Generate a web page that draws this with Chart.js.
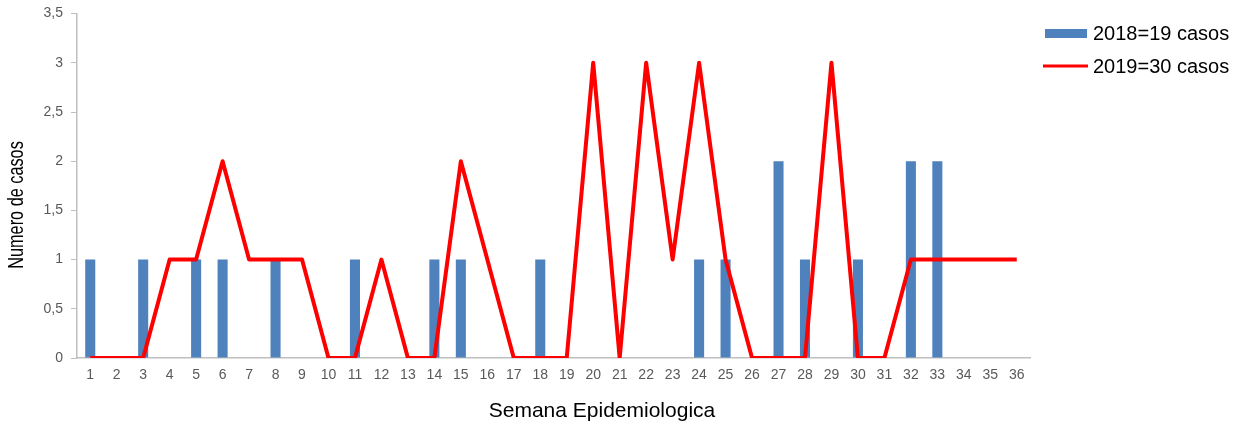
<!DOCTYPE html>
<html>
<head>
<meta charset="utf-8">
<script src="https://cdn.jsdelivr.net/npm/chart.js@4.4.1/dist/chart.umd.min.js"></script>
<style>
  html, body { margin: 0; padding: 0; background: #fff; }
  #wrap { width: 1255px; height: 428px; position: relative; }
</style>
</head>
<body>
<div id="wrap"><canvas id="chart"></canvas></div>
<script>
const weeks = ['1','2','3','4','5','6','7','8','9','10','11','12','13','14','15','16','17','18',
  '19','20','21','22','23','24','25','26','27','28','29','30','31','32','33','34','35','36'];
const cases2018 = [1,0,1,0,1,1,0,1,0,0,1,0,0,1,1,0,0,1,0,0,0,0,0,1,1,0,2,1,0,1,0,2,2,0,0,0];
const cases2019 = [0,0,0,1,1,2,1,1,1,0,0,1,0,0,2,1,0,0,0,3,0,3,1,3,1,0,0,0,3,0,0,1,1,1,1,1];
const label2018 = '2018=19 casos';
const label2019 = '2019=30 casos';
const xTitle = 'Semana Epidemiologica';
const yTitle = 'Numero de casos';

const BLUE = '#4f81bd';
const RED = '#ff0000';
const TICK_COLOR = '#595959';
const FONT = '"Liberation Sans", Arial, sans-serif';

// legend + axis titles drawn by hand so they sit where the original has them
const extras = {
  id: 'extras',
  afterDraw(chart) {
    const ctx = chart.ctx;
    ctx.save();
    ctx.font = '20px ' + FONT;
    ctx.textBaseline = 'middle';
    ctx.textAlign = 'left';
    // legend
    ctx.fillStyle = BLUE;
    ctx.fillRect(1045, 29, 42, 9);
    ctx.fillStyle = '#000';
    ctx.fillText(label2018, 1093, 34);
    ctx.strokeStyle = RED;
    ctx.lineWidth = 3;
    ctx.beginPath();
    ctx.moveTo(1043, 66);
    ctx.lineTo(1088, 66);
    ctx.stroke();
    ctx.fillText(label2019, 1093, 67);
    // x title
    ctx.font = '21px ' + FONT;
    ctx.textAlign = 'center';
    ctx.fillText(xTitle, 602, 411);
    // y title, narrow like the original
    ctx.translate(17, 205);
    ctx.rotate(-Math.PI / 2);
    ctx.scale(0.74, 1);
    ctx.font = '22px ' + FONT;
    ctx.fillText(yTitle, 0, 0);
    ctx.restore();
  }
};

new Chart(document.getElementById('chart'), {
  type: 'bar',
  data: {
    labels: weeks,
    datasets: [
      {
        type: 'line',
        label: label2019,
        data: cases2019,
        borderColor: RED,
        backgroundColor: RED,
        borderWidth: 4,
        borderJoinStyle: 'round',
        pointRadius: 0,
        tension: 0,
        order: 0,
      },
      {
        label: label2018,
        data: cases2018,
        backgroundColor: BLUE,
        barPercentage: 0.38,
        categoryPercentage: 1,
        order: 1,
      },
    ],
  },
  options: {
    responsive: true,
    maintainAspectRatio: false,
    animation: false,
    layout: { padding: { top: 13, right: 225, left: 0, bottom: 0 } },
    plugins: {
      legend: { display: false },
      tooltip: { enabled: false },
    },
    scales: {
      x: {
        grid: { display: false },
        border: { display: true, color: '#bfbfbf', width: 1.5 },
        ticks: {
          color: TICK_COLOR,
          padding: 1,
          maxRotation: 0,
          autoSkip: false,
          font: { family: FONT, size: 14 },
        },
        afterFit: (s) => { s.height = 70; },
      },
      y: {
        min: 0,
        max: 3.5,
        grid: { drawOnChartArea: false, drawTicks: true, tickLength: 6, color: '#bfbfbf' },
        border: { display: true, color: '#bfbfbf', width: 1.5 },
        ticks: {
          stepSize: 0.5,
          color: TICK_COLOR,
          padding: 8,
          font: { family: FONT, size: 14, lineHeight: 0.8 },
          callback: (v) => String(v).replace('.', ','),
        },
        afterFit: (s) => { s.width = 77; },
      },
    },
  },
  plugins: [extras],
});
</script>
</body>
</html>
